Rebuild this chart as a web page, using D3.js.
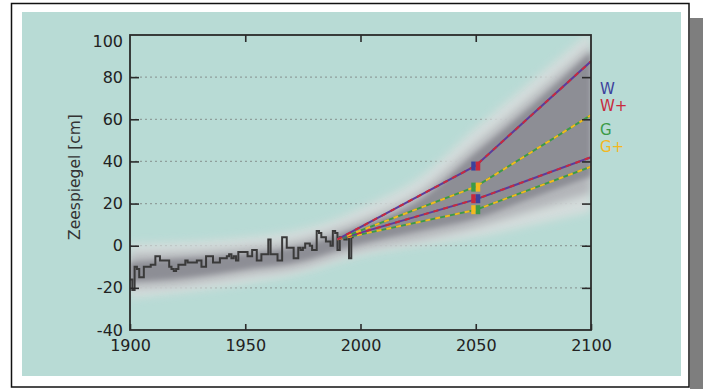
<!DOCTYPE html>
<html><head><meta charset="utf-8">
<script src="https://cdn.jsdelivr.net/npm/d3@7"></script>
<style>html,body{margin:0;padding:0;background:#fff;overflow:hidden}svg{display:block}</style>
</head><body>
<svg id="chart" width="703" height="389"></svg>
<script>
// ---------- data ----------
const xTickValues = [1900, 1950, 2000, 2050, 2100];
const yTickValues = [100, 80, 60, 40, 20, 0, -20, -40];
const gridValues = [80, 60, 40, 20, 0, -20];
const yTitle = "Zeespiegel [cm]";

// observed sea level, one value per year from 1900
const histStart = 1900;
const histValues = [-16,-21,-10,-11,-15,-15,-10,-10,-10,-9,-9,-5,-5,-7,-7,-7,-7,-10,-11,-12,
  -11,-9,-9,-9,-7,-8,-8,-8,-8,-7,-7,-10,-10,-5,-5,-5,-8,-8,-8,-6,
  -6,-6,-5,-4,-6,-5,-7,-3,-3,-3,-3,-5,-5,-2,-2,-7,-7,-4,-4,-4,
  3,-4,-4,-4,-7,-7,4,4,-1,-1,-1,-6,-6,-1,-2,-1,1,1,0,-2,
  -2,7,6,4,4,2,2,0,7,6,-2,4,4,3,4,-6,4];

// scenario projections
const projYears = [1990, 2050, 2100];
const wHigh = [3, 38, 87.5];
const gHigh = [3, 28, 62];
const wLow  = [3, 22, 42];
const gLow  = [3, 17, 37.5];

// uncertainty envelope
const bandYears = [1900, 1925, 1950, 1975, 1990, 2000, 2025, 2050, 2075, 2100];
const haloHi = [1, 2, 4, 8, 13, 18, 32, 56, 79, 102];
const haloLo = [-25, -22, -18, -13, -8, -5, 0, 4, 10, 16];
const midHi  = [-4, -3, -1, 3, 8, 12, 25, 48, 71, 95];
const midLo  = [-20, -18, -14, -10, -5, -2, 3, 9, 17, 25];
const coreHi = [-8, -6, -4, 0, 5, 9, 21, 44, 67, 92];
const coreLo = [-17, -15, -11, -7, -2, 1, 7, 13, 23, 33];

// 2050 markers
const markerYear = 2050;
const markerValues = [37.8, 27.8, 22.3, 17.1];
const markerLeft  = ["W", "G", "W+", "G+"];
const markerRight = ["W+", "G+", "W", "G"];

// legend
const scenarios = ["W", "W+", "G", "G+"];
const scenarioColors = {"W": "#3d419c", "W+": "#c82a3c", "G": "#3b9a47", "G+": "#f3b81f"};

// ---------- drawing ----------
const svg = d3.select("#chart");
const font = "'DejaVu Sans', Verdana, sans-serif";

// frame + shadow
svg.append("rect").attr("x", 690).attr("y", 18).attr("width", 13).attr("height", 371).attr("fill", "#7e7e7e");
svg.append("rect").attr("x", 11.5).attr("y", 3.5).attr("width", 677.5).attr("height", 383.5)
  .attr("fill", "#fff").attr("stroke", "#111").attr("stroke-width", 1.5);
svg.append("rect").attr("x", 22).attr("y", 12).attr("width", 659).attr("height", 364).attr("fill", "#b8dbd5");

const x = d3.scaleLinear().domain([1900, 2100]).range([130, 591]);
const y = d3.scaleLinear().domain([-40, 100]).range([330, 35]);

const defs = svg.append("defs");
defs.append("clipPath").attr("id", "plotclip").append("rect")
  .attr("x", x(1900)).attr("y", y(100)).attr("width", x(2100) - x(1900)).attr("height", y(-40) - y(100));
[["blurHalo", 4], ["blurMid", 4], ["blurCore", 2.5]].forEach(([id, s]) => {
  defs.append("filter").attr("id", id).attr("x", "-20%").attr("y", "-20%").attr("width", "140%").attr("height", "140%")
    .append("feGaussianBlur").attr("stdDeviation", s);
});

// gridlines
svg.append("g").selectAll("line").data(gridValues).join("line")
  .attr("x1", x(1900)).attr("x2", x(2100)).attr("y1", d => y(d)).attr("y2", d => y(d))
  .attr("stroke", "#8f9f9c").attr("stroke-width", 1.3).attr("stroke-dasharray", "2,3");

const plot = svg.append("g").attr("clip-path", "url(#plotclip)");

function band(lo, hi) {
  return d3.area().x((d, i) => x(bandYears[i])).y0((d, i) => y(lo[i])).y1((d, i) => y(hi[i]))
    .curve(d3.curveMonotoneX)(bandYears);
}
plot.append("path").attr("d", band(haloLo, haloHi)).attr("fill", "#d9dddd").attr("opacity", 0.85).attr("filter", "url(#blurHalo)");
plot.append("path").attr("d", band(midLo, midHi)).attr("fill", "#b3b5b9").attr("filter", "url(#blurMid)");
plot.append("path").attr("d", band(coreLo, coreHi)).attr("fill", "#8d8e95").attr("filter", "url(#blurCore)");

// observed series
const histPts = histValues.map((v, i) => [histStart + i, v]);
histPts.push([histStart + histValues.length, histValues[histValues.length - 1]]);
plot.append("path").attr("d", d3.line().x(d => x(d[0])).y(d => y(d[1])).curve(d3.curveStepAfter)(histPts))
  .attr("fill", "none").attr("stroke", "#3a3a3a").attr("stroke-width", 2);

// projection lines (two-colour dashes)
const projLine = d3.line().x((d, i) => x(projYears[i])).y(d => y(d));
function dashed(vals, c1, c2) {
  plot.append("path").attr("d", projLine(vals)).attr("fill", "none").attr("stroke", c1).attr("stroke-width", 2);
  plot.append("path").attr("d", projLine(vals)).attr("fill", "none").attr("stroke", c2).attr("stroke-width", 2)
    .attr("stroke-dasharray", "5,5");
}
dashed(gLow, scenarioColors["G"], scenarioColors["G+"]);
dashed(wLow, "#5b3c9c", scenarioColors["W+"]);
dashed(gHigh, scenarioColors["G"], scenarioColors["G+"]);
dashed(wHigh, "#5b3c9c", scenarioColors["W+"]);

// markers at 2050
const ms = 9;
const mg = svg.append("g");
markerValues.forEach((v, i) => {
  mg.append("rect").attr("x", x(markerYear) - ms / 2).attr("y", y(v) - ms / 2).attr("width", ms / 2).attr("height", ms)
    .attr("fill", scenarioColors[markerLeft[i]]);
  mg.append("rect").attr("x", x(markerYear)).attr("y", y(v) - ms / 2).attr("width", ms / 2).attr("height", ms)
    .attr("fill", scenarioColors[markerRight[i]]);
});

// axes
const axisColor = "#2b2b2b";
const fmt = d => String(d);
function styleAxis(g) {
  g.select(".domain").remove();
  g.selectAll(".tick line").attr("stroke", axisColor).attr("stroke-width", 1.6);
  g.selectAll("text").attr("fill", "#222").style("font-family", font).style("font-size", "16px");
}
svg.append("g").attr("transform", `translate(0,${y(-40)})`)
  .call(d3.axisBottom(x).tickValues(xTickValues).tickFormat(fmt).tickSizeInner(-6).tickSizeOuter(0).tickPadding(10))
  .call(styleAxis);
svg.append("g").attr("transform", `translate(0,${y(100)})`)
  .call(d3.axisTop(x).tickValues(xTickValues.slice(1, -1)).tickFormat("").tickSizeInner(-7).tickSizeOuter(0))
  .call(styleAxis);
const yAxisG = svg.append("g").attr("transform", `translate(${x(1900)},0)`)
  .call(d3.axisLeft(y).tickValues(yTickValues).tickFormat(fmt).tickSizeInner(-9).tickSizeOuter(0).tickPadding(7))
  .call(styleAxis);
yAxisG.selectAll(".tick").filter(d => d === 100).select("text").attr("y", 6);
yAxisG.selectAll(".tick").filter(d => d === 100 || d === -40).select("line").remove();
svg.append("g").attr("transform", `translate(${x(2100)},0)`)
  .call(d3.axisRight(y).tickValues(yTickValues.slice(1, -1)).tickFormat("").tickSizeInner(-9).tickSizeOuter(0))
  .call(styleAxis);

// plot frame
svg.append("rect").attr("x", x(1900)).attr("y", y(100)).attr("width", x(2100) - x(1900)).attr("height", y(-40) - y(100))
  .attr("fill", "none").attr("stroke", axisColor).attr("stroke-width", 1.8);

// y title
svg.append("text").attr("transform", `translate(80,177) rotate(-90)`).attr("text-anchor", "middle")
  .style("font-family", font).style("font-size", "15.5px").attr("fill", "#333").text(yTitle);

// legend
const legendY = [89, 106, 129.5, 147];
svg.append("g").selectAll("text").data(scenarios).join("text")
  .attr("x", 600).attr("y", (d, i) => legendY[i]).attr("dy", "0.36em")
  .style("font-family", font).style("font-size", "15px").attr("fill", d => scenarioColors[d]).text(d => d);
</script>
</body></html>
